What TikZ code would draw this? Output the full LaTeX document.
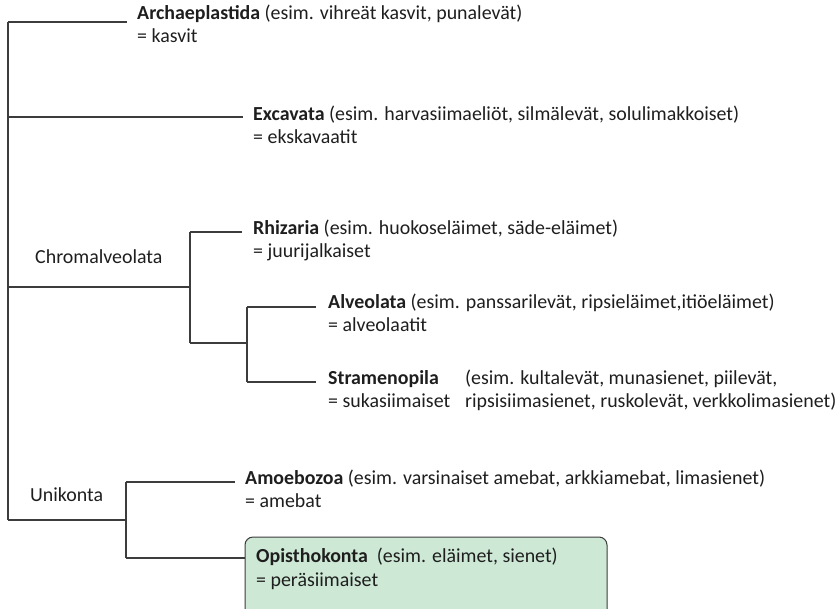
\documentclass[tikz,border=0pt]{standalone}
\usepackage{fontspec}
\setmainfont{Carlito}
\definecolor{lineclr}{HTML}{3C3C3C}
\definecolor{txtclr}{HTML}{1E1E1E}
\definecolor{boxfill}{HTML}{CDE8D5}
\begin{document}
\begin{tikzpicture}[x=1pt,y=-1pt,
  branch/.style={draw=lineclr,line width=1.3pt},
  lbl/.style={anchor=base west,inner sep=0pt,text=txtclr,font=\fontsize{19.9}{23}\selectfont},
  greenbox/.style={draw=lineclr,line width=1pt,fill=boxfill,rounded corners=8pt}]
\useasboundingbox (0,0) rectangle (838,608);
% box (drawn first)
\begin{scope}
\clip (0,0) rectangle (838,608);
\path[greenbox] (245,537) rectangle (607,625);
\end{scope}
% coordinates
\coordinate (r0) at (8,22);
\coordinate (r1) at (8,117);
\coordinate (r2) at (8,287);
\coordinate (r3) at (8,520);
\coordinate (archE) at (127,22);
\coordinate (excE) at (243,117);
\coordinate (chJ) at (190,287);
\coordinate (chT) at (190,232);
\coordinate (chB) at (190,343);
\coordinate (rhE) at (242,232);
\coordinate (saJ) at (247,343);
\coordinate (saT) at (247,307);
\coordinate (saB) at (247,382);
\coordinate (alE) at (316,307);
\coordinate (stE) at (316,382);
\coordinate (unJ) at (126,520);
\coordinate (unT) at (126,482);
\coordinate (unB) at (126,558);
\coordinate (amE) at (235,482);
\coordinate (opE) at (245,558);
% tree
\draw[branch] (r0) -- (r3);
\draw[branch] (r0) -- (archE);
\draw[branch] (r1) -- (excE);
\draw[branch] (r2) -- (chJ);
\draw[branch] (chT) -- (chB);
\draw[branch] (chT) -- (rhE);
\draw[branch] (chB) -- (saJ);
\draw[branch] (saT) -- (saB);
\draw[branch] (saT) -- (alE);
\draw[branch] (saB) -- (stE);
\draw[branch] (r3) -- (unJ);
\draw[branch] (unT) -- (unB);
\draw[branch] (unT) -- (amE);
\draw[branch] (unB) -- (opE);
% labels
\node[lbl] (arch) at (137,19) {\textbf{Archaeplastida} (esim. vihreät kasvit, punalevät)};
\node[lbl] (arch2) at (137,42) {= kasvit};
\node[lbl] (exc) at (253,120) {\textbf{Excavata} (esim. harvasiimaeliöt, silmälevät, solulimakkoiset)};
\node[lbl] (exc2) at (253,143) {= ekskavaatit};
\node[lbl] (chrom) at (35,263) {Chromalveolata};
\node[lbl] (rhi) at (253,234) {\textbf{Rhizaria} (esim. huokoseläimet, säde-eläimet)};
\node[lbl] (rhi2) at (253,257) {= juurijalkaiset};
\node[lbl] (alv) at (328,308) {\textbf{Alveolata} (esim. panssarilevät, ripsieläimet,itiöeläimet)};
\node[lbl] (alv2) at (328,331) {= alveolaatit};
\node[lbl] (str) at (328,384) {\textbf{Stramenopila}};
\node[lbl] (str2) at (328,407) {= sukasiimaiset};
\node[lbl] (strA) at (465,384) {(esim. kultalevät, munasienet, piilevät,};
\node[lbl] (strB) at (465,407) {ripsisiimasienet, ruskolevät, verkkolimasienet)};
\node[lbl] (uni) at (30,501) {Unikonta};
\node[lbl] (amo) at (245,484) {\textbf{Amoebozoa} (esim. varsinaiset amebat, arkkiamebat, limasienet)};
\node[lbl] (amo2) at (245,507) {= amebat};
\node[lbl] (opi) at (256,562) {\textbf{Opisthokonta}\ \ (esim. eläimet, sienet)};
\node[lbl] (opi2) at (256,586) {= peräsiimaiset};
\end{tikzpicture}
\end{document}
